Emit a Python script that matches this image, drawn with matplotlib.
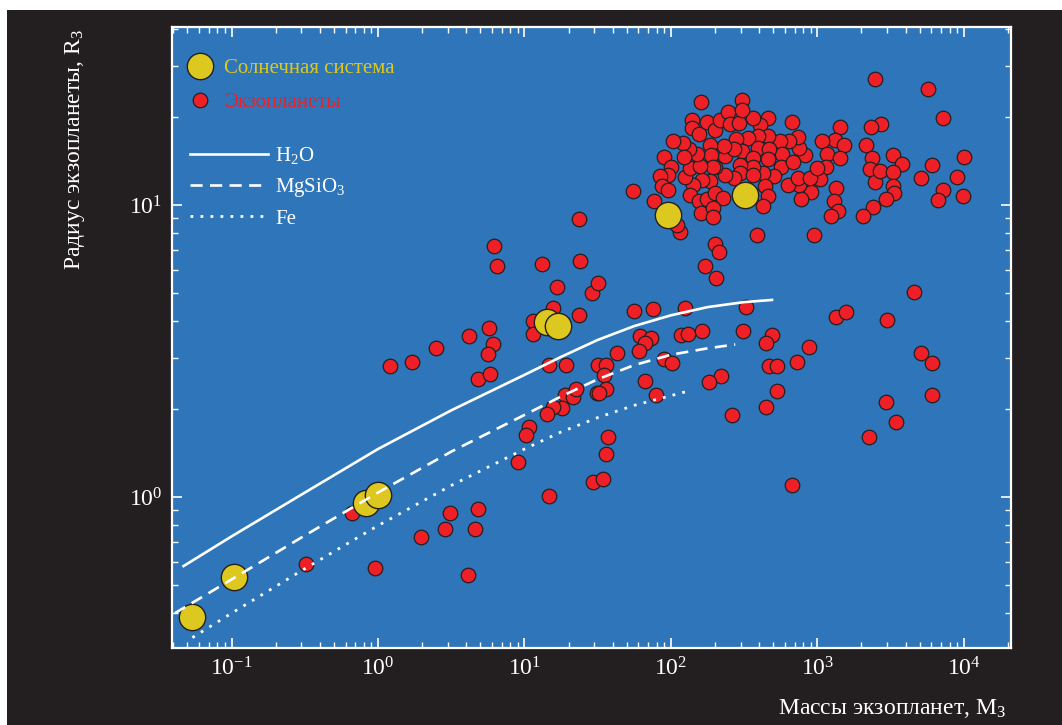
import matplotlib
matplotlib.use("Agg")
import matplotlib.pyplot as plt
from matplotlib.lines import Line2D
from matplotlib.patches import Rectangle

plt.rcParams['font.family'] = ['Liberation Serif', 'DejaVu Serif']
plt.rcParams['mathtext.fontset'] = 'custom'
plt.rcParams['mathtext.rm'] = 'Liberation Serif'
plt.rcParams['mathtext.it'] = 'Liberation Serif:italic'
plt.rcParams['mathtext.bf'] = 'Liberation Serif:bold'

# Colours
bgDark = '#231f20'
axBlue = '#2e76b9'
redCol = '#ee1f26'
yellowCol = '#dcc81e'

# Solar system planets (mass, radius in Earth units)
solarMass = [0.054, 0.104, 0.824, 1.0, 14.3, 17.0, 95.7, 321]
solarRadius = [0.387, 0.531, 0.951, 1.016, 3.96, 3.86, 9.24, 10.8]

# Exoplanets
exoMass = [1.2, 1.7, 2.5, 4.2, 5.75, 6.1, 5.6, 4.85, 5.8, 16.8,
           28.8, 31.8, 23.6, 11.4, 11.4, 15.6, 14.8, 19.2, 31.8, 31.1,
           18.9, 21.6, 22.5, 18.1, 15.6, 14.2, 10.7, 10.3, 9.1, 14.8,
           29.5, 34.2, 36, 0.66, 0.32, 0.955, 1.97, 2.88, 3.1, 4.8,
           4.6, 4.1, 23.9, 171, 203, 56, 75, 124, 328, 61.6,
           73, 67, 42.7, 60.6, 117, 131, 163, 310, 493, 445,
           875, 724, 466, 528, 531, 447, 262, 219, 183, 90,
           102, 66.7, 79, 35.9, 35.1, 36.3, 32.3, 37.2, 670, 1340,
           1575, 4560, 2980, 5120, 6060, 6110, 2920, 3470, 2260, 23.6,
           6.17, 6.5, 13.1, 55, 77, 116, 110, 201, 213, 388,
           955, 161, 307, 2460, 5690, 7260, 10100, 8950, 9800, 7260,
           6650, 6060, 5090, 2710, 2320, 2140, 2360, 2290, 2480, 2685,
           3260, 3810, 3310, 3310, 3360, 2920, 2380, 2040, 1430, 1320,
           1080, 1520, 1160, 1420, 1140, 1045, 1350, 1290, 1390, 1240,
           903, 775, 751, 635, 743, 893, 991, 826, 755, 743,
           645, 673, 557, 572, 566, 687, 507, 427, 440, 463,
           427, 463, 403, 366, 463, 396, 336, 278, 305, 396,
           468, 459, 366, 366, 297, 297, 268, 235, 200, 235,
           268, 231, 185, 187, 195, 185, 162, 142, 124, 135,
           158, 150, 133, 121, 104, 122, 90, 100, 95, 84,
           87, 96, 139, 139, 155, 177, 200, 217, 247, 254,
           292, 307, 136, 155, 175, 200, 226, 160, 195, 195,
           366]
exoRadius = [2.8, 2.9, 3.25, 3.55, 3.8, 3.35, 3.1, 2.53, 2.64, 5.25,
             5.0, 5.4, 4.2, 4.0, 3.63, 4.43, 2.83, 2.83, 2.83, 2.27,
             2.23, 2.2, 2.34, 2.02, 2.04, 1.92, 1.74, 1.63, 1.32, 1.01,
             1.13, 1.15, 1.4, 0.88, 0.59, 0.57, 0.73, 0.78, 0.88, 0.91,
             0.775, 0.54, 6.43, 6.2, 5.63, 4.34, 4.4, 4.43, 4.48, 3.56,
             3.49, 3.36, 3.12, 3.15, 3.59, 3.62, 3.71, 3.71, 3.59, 3.38,
             3.27, 2.91, 2.81, 2.81, 2.31, 2.04, 1.91, 2.6, 2.48, 2.96,
             2.88, 2.49, 2.24, 2.84, 2.61, 2.35, 2.27, 1.61, 1.10, 4.15,
             4.29, 5.02, 4.04, 3.12, 2.88, 2.23, 2.12, 1.80, 1.6, 8.98,
             7.23, 6.18, 6.3, 11.2, 10.3, 8.06, 8.55, 7.33, 6.92, 7.9,
             7.9, 22.5, 22.9, 27.1, 24.9, 19.9, 14.6, 12.5, 10.7, 11.3,
             10.4, 13.7, 12.4, 19.0, 18.5, 16.0, 14.5, 13.3, 12.0, 13.1,
             14.8, 13.8, 13.0, 11.6, 11.0, 10.5, 9.85, 9.2, 18.5, 16.7,
             16.5, 16.0, 15.0, 14.5, 13.5, 12.3, 11.4, 10.3, 9.57, 9.2,
             11.05, 10.5, 11.7, 11.7, 12.4, 12.4, 13.4, 14.8, 15.7, 17.1,
             16.6, 19.2, 16.5, 15.0, 13.5, 14.0, 12.6, 12.9, 11.6, 10.7,
             9.93, 19.8, 18.8, 19.9, 17.2, 17.2, 17.0, 16.8, 15.3, 15.7,
             15.5, 14.4, 14.5, 13.5, 13.7, 12.9, 12.4, 12.7, 13.5, 14.7,
             15.6, 15.9, 16.0, 14.8, 13.5, 12.1, 12.2, 11.7, 12.5, 13.4,
             13.6, 15.0, 15.5, 16.3, 16.5, 14.6, 14.6, 13.5, 12.7, 12.6,
             11.6, 11.25, 19.6, 18.3, 17.5, 19.2, 18.1, 19.6, 20.9, 19.0,
             19.15, 21.1, 10.8, 10.3, 10.5, 11.0, 10.6, 9.38, 9.8, 9.08,
             12.7]

# Model mass-radius curves
h2oMass = [0.047, 0.1, 0.316, 1.0, 3.16, 10, 17.8, 31.6, 56.2, 100, 178, 316, 490]
h2oRadius = [0.58, 0.733, 1.035, 1.46, 1.98, 2.62, 3.02, 3.45, 3.85, 4.19, 4.47, 4.65, 4.73]
mgsMass = [0.041, 0.1, 0.316, 1.0, 3.16, 10, 17.8, 31.6, 56.2, 100, 178, 275]
mgsRadius = [0.40, 0.522, 0.738, 1.036, 1.43, 1.91, 2.21, 2.53, 2.83, 3.07, 3.23, 3.33]
feMass = [0.054, 0.1, 0.316, 1.0, 3.16, 10, 17.8, 31.6, 56.2, 129]
feRadius = [0.33, 0.40, 0.568, 0.798, 1.095, 1.46, 1.67, 1.87, 2.06, 2.30]

fig = plt.figure(figsize=(10.62, 7.25), dpi=100)
fig.patch.set_facecolor('white')
fig.add_artist(Rectangle((7 / 1062, 0), 1, 715 / 725, transform=fig.transFigure,
                         facecolor=bgDark, edgecolor='none', zorder=-10))

ax = fig.add_axes([172 / 1062, 77 / 725, 839 / 1062, 621 / 725])
ax.set_facecolor(axBlue)
ax.set_xscale('log')
ax.set_yscale('log')
ax.set_xlim(0.0392, 21000)
ax.set_ylim(0.304, 40.7)

ax.scatter(exoMass, exoRadius, s=110, c=redCol, edgecolors=bgDark, linewidths=0.9, zorder=3)
ax.scatter(solarMass, solarRadius, s=360, c=yellowCol, edgecolors=bgDark, linewidths=1.0, zorder=4)

dashStyle = (0, (4.6, 2.8))
dotStyle = (0, (1, 2.6))
ax.plot(h2oMass, h2oRadius, color='white', lw=1.9, zorder=5)
ax.plot(mgsMass, mgsRadius, color='white', lw=1.9, ls=dashStyle, zorder=5)
ax.plot(feMass, feRadius, color='white', lw=2.0, ls=dotStyle, zorder=5)

for sp in ax.spines.values():
    sp.set_color('white')
    sp.set_linewidth(1.6)

ax.tick_params(which='both', direction='in', top=True, right=True, color='white',
               labelcolor='white', labelsize=17)
ax.tick_params(which='major', length=7.5, width=1.2, pad=7)
ax.tick_params(which='minor', length=4, width=1.0)
ax.set_xticks([0.1, 1, 10, 100, 1000, 10000])
ax.set_yticks([1, 10])

# Legends
pointHandles = [
    Line2D([], [], ls='', marker='o', ms=19, mfc=yellowCol, mec=bgDark, mew=1.0),
    Line2D([], [], ls='', marker='o', ms=10.5, mfc=redCol, mec=bgDark, mew=0.9),
]
leg1 = ax.legend(pointHandles, ['Солнечная система', 'Экзопланеты'],
                 loc='upper left', bbox_to_anchor=(0.0215, 0.949), frameon=False,
                 fontsize=15, handlelength=1.0, handletextpad=0.65, labelspacing=0.69,
                 borderpad=0, borderaxespad=0, labelcolor=[yellowCol, redCol])
ax.add_artist(leg1)

lineHandles = [
    Line2D([], [], color='white', lw=1.9),
    Line2D([], [], color='white', lw=1.9, ls=dashStyle),
    Line2D([], [], color='white', lw=2.0, ls=dotStyle),
]
ax.legend(lineHandles, ['H$_2$O', 'MgSiO$_3$', 'Fe'],
          loc='upper left', bbox_to_anchor=(0.0215, 0.81), frameon=False,
          fontsize=15, handlelength=3.75, handletextpad=0.35, labelspacing=0.48,
          borderpad=0, borderaxespad=0, labelcolor='white')

fig.text(75 / 1062, 1 - 29 / 725, 'Радиус экзопланеты, R$_\\mathrm{З}$', rotation=90,
         ha='center', va='top', color='white', fontsize=17)
fig.text(1006 / 1062, 1 - 714 / 725, 'Массы экзопланет, M$_\\mathrm{З}$',
         ha='right', va='baseline', color='white', fontsize=17)

fig.savefig('out.png', dpi=100, facecolor=fig.get_facecolor())
